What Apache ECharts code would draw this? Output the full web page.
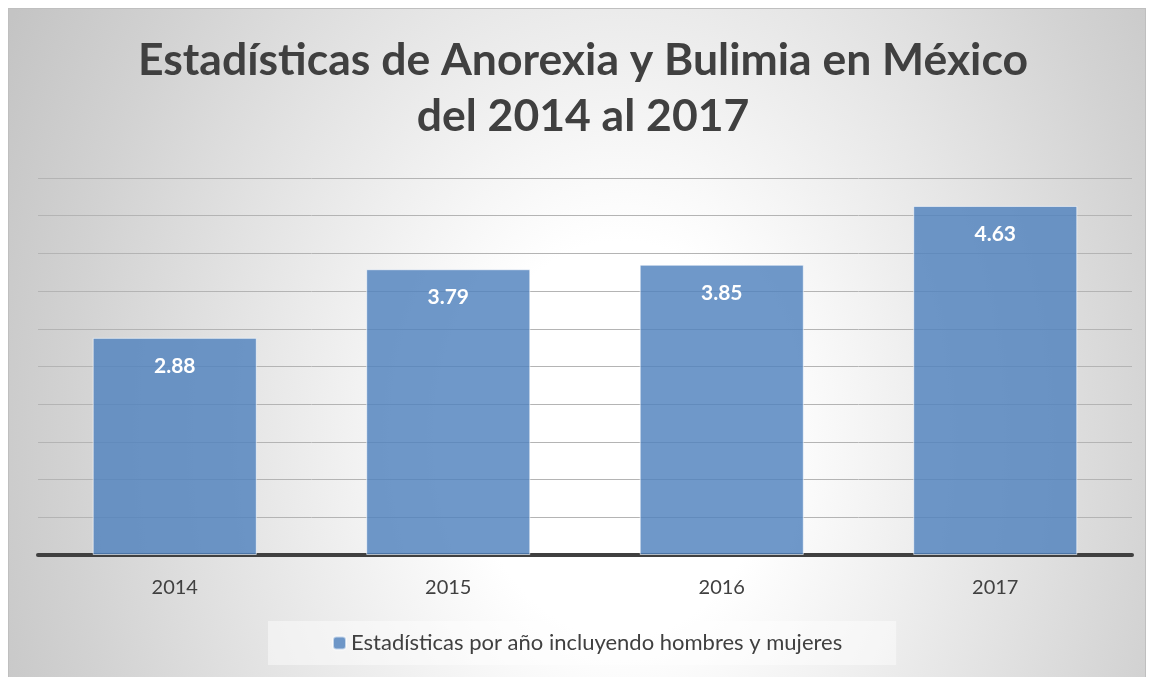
<!DOCTYPE html>
<html>
<head>
<meta charset="utf-8">
<script src="https://cdn.jsdelivr.net/npm/echarts@6/dist/echarts.min.js"></script>
<style>
  html, body { margin: 0; padding: 0; background: #fff; }
  #chart {
    position: absolute; left: 8px; top: 8px;
    width: 1136px; height: 668px;
    border: 1px solid #bfbfbf;
    /* fondo degradado elíptico, blanco al centro */
    background: radial-gradient(ellipse 690px 900px at 612px 430px,
      #ffffff 0%, #ffffff 22%, #ededed 45%, #d2d2d2 80%, #c4c4c4 100%);
  }
</style>
</head>
<body>
<div id="chart"></div>
<script>
// datos
const years = ["2014", "2015", "2016", "2017"];
const casos = [2.88, 3.79, 3.85, 4.63];
const serieNombre = "Estadísticas por año incluyendo hombres y mujeres";
const titulo = "Estadísticas de Anorexia y Bulimia en México\ndel 2014 al 2017";

const fuente = "Lato, 'Open Sans', sans-serif";

let myChart = echarts.init(document.getElementById("chart"));
myChart.setOption({
  backgroundColor: "transparent",
  title: {
    text: titulo,
    left: 569,
    textAlign: "center",
    top: 19,
    textStyle: {
      fontFamily: fuente,
      fontSize: 44.5,
      fontWeight: "bold",
      lineHeight: 56,
      color: "#404040",
    },
  },
  legend: {
    data: [serieNombre],
    bottom: 12,
    left: 259,
    padding: [11, 54, 11, 64],
    itemWidth: 13,
    itemHeight: 13,
    itemGap: 5,
    backgroundColor: "rgba(255,255,255,0.45)",
    textStyle: {
      fontFamily: fuente,
      fontSize: 22,
      color: "#404040",
    },
  },
  grid: {
    left: 29,
    right: 13,
    top: 169,
    bottom: 122,
  },
  xAxis: {
    type: "category",
    data: years,
    axisTick: { show: false },
    axisLine: { lineStyle: { color: "#404040", width: 4 } },
    axisLabel: {
      margin: 23,
      fontFamily: fuente,
      fontSize: 20,
      color: "#404040",
    },
  },
  yAxis: {
    type: "value",
    min: 0,
    max: 5,
    interval: 0.5,
    axisLabel: { show: false },
    axisLine: { show: false },
    axisTick: { show: false },
    splitLine: { lineStyle: { color: "#b4b4b4", width: 1 } },
  },
  series: [
    {
      name: serieNombre,
      type: "bar",
      data: casos,
      barCategoryGap: "40%",
      itemStyle: {
        color: "rgba(79,129,189,0.82)",
        borderColor: "rgba(255,255,255,0.6)",
        borderWidth: 1,
      },
      label: {
        show: true,
        position: "insideTop",
        distance: 18,
        fontFamily: fuente,
        fontSize: 21,
        fontWeight: "bold",
        color: "#ffffff",
      },
    },
  ],
});
window.onresize = myChart.resize;
</script>
</body>
</html>
